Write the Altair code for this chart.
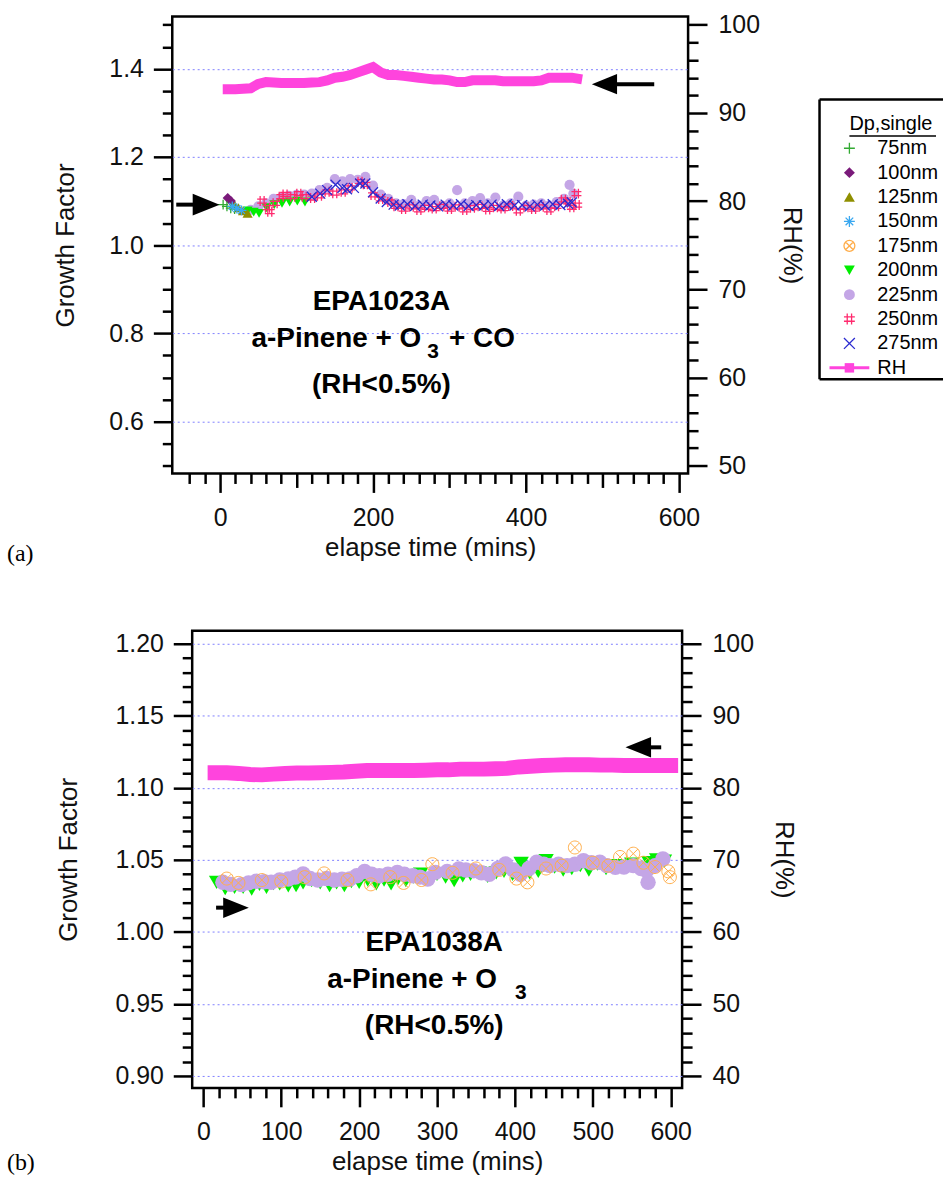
import altair as alt
import pandas as pd

FONT = "Liberation Sans"

# ---------------- legend / series definitions ----------------
SERIES = ["75nm", "100nm", "125nm", "150nm", "175nm", "200nm", "225nm", "250nm", "275nm"]
COLORS_A = ["#33aa33", "#7a1a7a", "#8f8f00", "#3aa8f0", "#ffad4a", "#00ee00", "#c4a6e6", "#ff2a6e", "#2a2ad0"]
COLORS_B = ["#33aa33", "#7a1a7a", "#8f8f00", "#3aa8f0", "#ffbe6a", "#00ee00", "#a46fe2", "#ff2a6e", "#2a2ad0"]
PLUS = "M-1,0H1M0,-1V1"
ASTER = "M-1,0H1M0,-1V1M-0.7,-0.7L0.7,0.7M-0.7,0.7L0.7,-0.7"
CIRCX = "M1,0A1,1,0,1,1,-1,0A1,1,0,1,1,1,0ZM-0.7,-0.7L0.7,0.7M-0.7,0.7L0.7,-0.7"
HASH = "M-1,-0.4H1M-1,0.4H1M-0.4,-1V1M0.4,-1V1"
XMARK = "M-1,-1L1,1M-1,1L1,-1"
SHAPES = [PLUS, "diamond", "triangle-up", ASTER, CIRCX, "triangle-down", "circle", HASH, XMARK]
FILLED = ["100nm", "125nm", "200nm", "225nm"]
STROKED = ["75nm", "150nm", "175nm", "250nm", "275nm"]

# ---------------- panel (a) data ----------------
rh_a_t = [10, 20, 30, 40, 50, 60, 70, 80, 90, 100, 110, 120, 130, 140, 150, 160, 170, 180, 190, 200,
          210, 220, 230, 240, 250, 260, 270, 280, 290, 300, 310, 320, 330, 340, 350, 360, 370, 380,
          390, 400, 410, 420, 430, 440, 450, 460, 467]
rh_a_v = [92.7, 92.7, 92.75, 92.8, 93.3, 93.5, 93.45, 93.4, 93.4, 93.4, 93.4, 93.45, 93.5, 93.7, 94.0,
          94.1, 94.3, 94.6, 94.9, 95.2, 94.6, 94.3, 94.3, 94.2, 94.1, 94.0, 93.9, 93.8, 93.8, 93.7,
          93.5, 93.5, 93.7, 93.7, 93.7, 93.7, 93.6, 93.6, 93.6, 93.6, 93.6, 93.7, 94.0, 94.0, 94.0,
          94.0, 93.9]

a225_t = [40, 50, 60, 70, 80, 90, 100, 110, 120, 130, 140, 150, 160, 170, 180, 190, 200, 210, 220,
          230, 240, 250, 260, 270, 280, 290, 300, 310, 320, 330, 340, 350, 360, 370, 380, 390, 400,
          410, 420, 430, 440, 450, 457, 462]
a225_g = [1.080, 1.088, 1.095, 1.105, 1.108, 1.112, 1.114, 1.115, 1.117, 1.125, 1.130, 1.150, 1.145,
          1.150, 1.148, 1.155, 1.135, 1.115, 1.105, 1.095, 1.093, 1.103, 1.090, 1.100, 1.103, 1.090,
          1.095, 1.125, 1.095, 1.100, 1.107, 1.095, 1.108, 1.090, 1.095, 1.110, 1.090, 1.092, 1.095,
          1.090, 1.098, 1.105, 1.137, 1.117]
a75_t = [4, 9, 14, 19]
a75_g = [1.092, 1.088, 1.084, 1.082]
a100_t = [10, 14]
a100_g = [1.107, 1.100]
a125_t = [18, 24, 30, 36]
a125_g = [1.095, 1.085, 1.078, 1.072]
a150_t = [16, 22, 28]
a150_g = [1.088, 1.083, 1.079]
a200_t = [36, 44, 51, 61, 71, 81, 91, 101, 111]
a200_g = [1.078, 1.075, 1.072, 1.085, 1.092, 1.095, 1.098, 1.100, 1.098]
a250_t = [55, 62, 65, 72, 80, 85, 95, 103, 110, 121, 130, 140, 150, 161, 170, 183, 190, 200, 210,
          222, 230, 240, 250, 260, 270, 280, 290, 300, 310, 320, 330, 340, 350, 360, 370, 380, 390,
          400, 410, 420, 430, 440, 449, 455, 460, 466, 467]
a250_g = [1.100, 1.085, 1.076, 1.095, 1.110, 1.115, 1.110, 1.117, 1.110, 1.107, 1.112, 1.121, 1.118,
          1.121, 1.130, 1.144, 1.138, 1.114, 1.105, 1.098, 1.088, 1.082, 1.087, 1.080, 1.086, 1.083,
          1.088, 1.082, 1.087, 1.080, 1.085, 1.088, 1.081, 1.086, 1.083, 1.089, 1.078, 1.086, 1.082,
          1.087, 1.080, 1.088, 1.103, 1.098, 1.086, 1.117, 1.091]
a275_t = [120, 131, 140, 151, 160, 166, 175, 183, 190, 200, 210, 218, 227, 235, 245, 255, 265, 275,
          285, 295, 305, 315, 325, 335, 345, 355, 365, 375, 385, 395, 405, 415, 425, 435, 445, 455, 460]
a275_g = [1.110, 1.117, 1.125, 1.137, 1.130, 1.127, 1.130, 1.140, 1.140, 1.120, 1.106, 1.098, 1.092,
          1.090, 1.093, 1.089, 1.092, 1.090, 1.088, 1.092, 1.090, 1.093, 1.089, 1.091, 1.090, 1.092,
          1.089, 1.093, 1.090, 1.091, 1.088, 1.092, 1.090, 1.093, 1.091, 1.094, 1.097]

# ---------------- panel (b) data ----------------
rh_b_t = [15, 30, 45, 60, 75, 90, 105, 120, 135, 150, 165, 180, 195, 210, 225, 240, 255, 270, 285,
          300, 315, 330, 345, 360, 375, 390, 405, 420, 435, 450, 465, 480, 495, 510, 525, 540, 555,
          570, 585, 600]
rh_b_v = [82.1, 82.1, 82.0, 81.85, 81.8, 81.9, 82.0, 82.05, 82.05, 82.1, 82.15, 82.2, 82.3, 82.4,
          82.4, 82.4, 82.4, 82.4, 82.45, 82.5, 82.5, 82.6, 82.6, 82.6, 82.65, 82.7, 82.9, 83.0, 83.1,
          83.15, 83.2, 83.2, 83.2, 83.15, 83.15, 83.1, 83.1, 83.1, 83.1, 83.1]

b225_t = [25, 35, 49, 58, 68, 78, 87, 98, 109, 118, 128, 137, 147, 158, 168, 178, 188, 197, 207, 216,
          226, 237, 249, 258, 269, 278, 288, 298, 313, 328, 337, 347, 357, 367, 378, 388, 398, 407,
          418, 428, 437, 445, 456, 467, 477, 488, 498, 509, 518, 529, 540, 552, 562, 569, 571, 580, 590]
b225_g = [1.0344, 1.0330, 1.0328, 1.0340, 1.0351, 1.0348, 1.0344, 1.0360, 1.0367, 1.0380, 1.0402,
          1.0370, 1.0360, 1.0370, 1.0360, 1.0365, 1.0367, 1.0390, 1.0420, 1.0400, 1.0390, 1.0400,
          1.0413, 1.0400, 1.0390, 1.0380, 1.0367, 1.0413, 1.0420, 1.0437, 1.0430, 1.0425, 1.0410,
          1.0400, 1.0440, 1.0471, 1.0430, 1.0400, 1.0440, 1.0483, 1.0470, 1.0460, 1.0470, 1.0460,
          1.0470, 1.0494, 1.0480, 1.0483, 1.0460, 1.0448, 1.0450, 1.0460, 1.0440, 1.0425, 1.0344,
          1.0460, 1.0506]
b200_t = [17, 28, 40, 51, 62, 72, 81, 90, 98, 109, 119, 128, 139, 150, 162, 171, 181, 190, 200, 211,
          222, 232, 241, 250, 260, 270, 279, 290, 300, 311, 322, 333, 343, 354, 365, 376, 386, 397,
          408, 419, 430, 440, 451, 462, 473, 484, 495, 506, 517, 528, 539, 550, 561, 572, 582, 592]
b200_g = [1.0344, 1.0300, 1.0309, 1.0310, 1.0298, 1.0330, 1.0309, 1.0335, 1.0333, 1.0320, 1.0321,
          1.0340, 1.0356, 1.0340, 1.0321, 1.0340, 1.0321, 1.0350, 1.0344, 1.0360, 1.0333, 1.0360,
          1.0333, 1.0370, 1.0356, 1.0380, 1.0400, 1.0370, 1.0400, 1.0380, 1.0356, 1.0390, 1.0400,
          1.0410, 1.0385, 1.0410, 1.0420, 1.0400, 1.0475, 1.0410, 1.0420, 1.0495, 1.0450, 1.0430,
          1.0440, 1.0460, 1.0430, 1.0470, 1.0440, 1.0460, 1.0450, 1.0470, 1.0440, 1.0480, 1.0500,
          1.0490]
b175_t = [30, 45, 75, 100, 130, 155, 185, 215, 240, 257, 280, 294, 320, 350, 380, 402, 416, 440, 460,
          477, 500, 520, 535, 552, 565, 580, 597, 599]
b175_g = [1.0370, 1.0340, 1.0360, 1.0350, 1.0380, 1.0406, 1.0360, 1.0330, 1.0380, 1.0340, 1.0360,
          1.0470, 1.0410, 1.0440, 1.0430, 1.0370, 1.0344, 1.0440, 1.0460, 1.0586, 1.0480, 1.0460,
          1.0520, 1.0543, 1.0480, 1.0450, 1.0420, 1.0380]


def frame(pairs):
    rows = []
    for name, ts, gs in pairs:
        for t, g in zip(ts, gs):
            rows.append({"series": name, "t": t, "gf": g})
    return pd.DataFrame(rows)


df_a = frame([("225nm", a225_t, a225_g), ("200nm", a200_t, a200_g), ("125nm", a125_t, a125_g),
              ("100nm", a100_t, a100_g), ("75nm", a75_t, a75_g), ("150nm", a150_t, a150_g),
              ("250nm", a250_t, a250_g), ("275nm", a275_t, a275_g)])
df_b = frame([("200nm", b200_t, b200_g), ("175nm", b175_t, b175_g), ("225nm", b225_t, b225_g)])
rh_a = pd.DataFrame({"t": rh_a_t, "rh": rh_a_v})
rh_b = pd.DataFrame({"t": rh_b_t, "rh": rh_b_v})
one = pd.DataFrame({"k": [0]})

RH_COLOR = "#ff44dd"
GRID = "#7f7fff"

AX = dict(domain=False, labelFont=FONT, titleFont=FONT, labelFontSize=25, titleFontSize=26,
          labelColor="#111111", titleColor="#111111", titleFontWeight="normal", tickColor="black",
          tickWidth=2.5, labelOverlap=False, labelFlush=False, tickCount=500)


def xaxis(vals, major, mid):
    return alt.Axis(values=vals, grid=False, title="elapse time (mins)",
                    labelExpr=f"datum.value % {major} == 0 ? datum.label : ''",
                    tickSize={"expr": f"datum.value % {major} == 0 ? 19 : (datum.value % {mid} == 0 ? 14 : 10)"},
                    labelPadding=13, titlePadding=4, format="d", **AX)


def gfaxis(vals, mult, fmt, tpad):
    test = f"abs(datum.value*{mult} - round(datum.value*{mult})) < 0.000001"
    return alt.Axis(values=vals, orient="left", title="Growth Factor",
                    labelExpr=f"({test}) ? format(datum.value, '{fmt}') : ''",
                    tickSize={"expr": f"({test}) ? 19 : 10"},
                    grid=True, gridColor=GRID, gridDash=[2, 3], gridWidth=1,
                    gridOpacity={"expr": f"({test}) ? 1 : 0"},
                    labelPadding=10, titlePadding=tpad, **AX)


def rhaxis(vals, tpad):
    return alt.Axis(values=vals, orient="right", title="RH(%)", grid=False,
                    labelExpr="datum.value % 10 == 0 ? datum.label : ''",
                    tickSize={"expr": "datum.value % 10 == 0 ? 19 : 10"},
                    labelPadding=11, titlePadding=tpad, format="d", **AX)


def txt(s, x, y, size=28, weight="bold", align="center", font=FONT):
    return alt.Chart(one).mark_text(text=s, fontSize=size, fontWeight=weight, align=align,
                                    baseline="middle", font=font, color="black").encode(
        x=alt.value(x), y=alt.value(y))


HEAD_R = "M-1,-0.8L1,0L-1,0.8Z"
HEAD_L = "M1,-0.8L-1,0L1,0.8Z"


def arrow(path, x1, x2, hx, y, size):
    shaft = alt.Chart(one).mark_rule(strokeWidth=4, color="black").encode(
        x=alt.value(x1), x2=alt.value(x2), y=alt.value(y))
    head = alt.Chart(one).mark_point(shape=path, filled=True, size=size, color="black",
                                     opacity=1).encode(x=alt.value(hx), y=alt.value(y))
    return shaft + head


def panel(df, rh, colors, xdom, xax, gdom, gax, rdom, rax, fsize, ssize, swidth, rh_width, w, h, extras):
    xs = alt.Scale(domain=xdom, nice=False, zero=False)
    x = alt.X("t:Q", scale=xs, axis=xax)
    y = alt.Y("gf:Q", scale=alt.Scale(domain=gdom, nice=False, zero=False), axis=gax)
    color = alt.Color("series:N", scale=alt.Scale(domain=SERIES, range=colors), legend=None)
    shape = alt.Shape("series:N", scale=alt.Scale(domain=SERIES, range=SHAPES), legend=None)
    base = alt.Chart(df).encode(x=x, y=y, color=color, shape=shape)
    filled = base.transform_filter(alt.FieldOneOfPredicate(field="series", oneOf=FILLED)).mark_point(
        filled=True, opacity=1, size=fsize)
    stroked = base.transform_filter(alt.FieldOneOfPredicate(field="series", oneOf=STROKED)).mark_point(
        filled=False, opacity=1, strokeWidth=swidth, size=ssize)
    gf_layer = alt.layer(filled, stroked)
    rh_line = alt.Chart(rh).mark_line(color=RH_COLOR, strokeWidth=rh_width, strokeCap="square",
                                      strokeJoin="miter").encode(
        x=alt.X("t:Q", scale=xs, axis=xax),
        y=alt.Y("rh:Q", scale=alt.Scale(domain=rdom, nice=False, zero=False), axis=rax))
    return alt.layer(gf_layer, rh_line, *extras).resolve_scale(y="independent").properties(width=w, height=h)


extras_a = [
    txt("EPA1023A", 210, 287),
    txt("a-Pinene + O", 250, 324, align="right"),
    txt("3", 262, 337, size=21),
    txt("+ CO", 278, 324, align="left"),
    txt("(RH<0.5%)", 210, 370),
    arrow(HEAD_R, 4, 24, 34, 189, 729),
    arrow(HEAD_L, 445, 484, 434, 68, 640),
    txt("(a)", -166, 540, size=24, weight="normal", align="left", font="Liberation Serif"),
]
panel_a = panel(df_a, rh_a, COLORS_A, [-62.5, 612], xaxis(list(range(-40, 601, 20)), 200, 100),
                [0.482, 1.519], gfaxis([round(0.5 + 0.05 * i, 2) for i in range(21)], 5, ".1f", 30),
                [49.1, 100.95], rhaxis(list(range(50, 101, 2)), 19), 105, 100, 1.3, 10, 518, 459,
                extras_a)

extras_b = [
    txt("EPA1038A", 243, 314),
    txt("a-Pinene + O", 306, 351, align="right"),
    txt("3", 330, 364, size=21),
    txt("(RH<0.5%)", 243, 397),
    arrow(HEAD_L, 458, 471, 448, 117, 660),
    arrow(HEAD_R, 24, 38, 44, 278, 660),
    txt("(b)", -186, 534, size=24, weight="normal", align="left", font="Liberation Serif"),
]
panel_b = panel(df_b, rh_b, COLORS_B, [-14.4, 614.7], xaxis(list(range(0, 601, 20)), 100, 100),
                [0.8917, 1.209], gfaxis([round(0.9 + 0.01 * i, 2) for i in range(31)], 20, ".2f", 34),
                [38.34, 101.8], rhaxis(list(range(40, 101, 2)), 17), 240, 170, 1.0, 15, 492, 459,
                extras_b)

# spacer that shifts panel (b) to the right of panel (a)'s frame
spacer = alt.Chart(one).mark_point(opacity=0).encode(x=alt.value(0), y=alt.value(0)).properties(
    width=20, height=459, view=alt.ViewBackground(stroke=None))

# ---------------- legend ----------------
leg_rows = list(range(9))
leg_df = pd.DataFrame({"series": SERIES, "row": leg_rows})
ly = alt.Scale(domain=[-5.404, 13.33], reverse=True)
lcolor = alt.Color("series:N", scale=alt.Scale(domain=SERIES, range=COLORS_A), legend=None)
lshape = alt.Shape("series:N", scale=alt.Scale(domain=SERIES, range=SHAPES), legend=None)
lbase = alt.Chart(leg_df).encode(x=alt.value(30), y=alt.Y("row:Q", scale=ly, axis=None),
                                 color=lcolor, shape=lshape)
leg_filled = lbase.transform_filter(alt.FieldOneOfPredicate(field="series", oneOf=FILLED)).mark_point(
    filled=True, opacity=1, size=120)
leg_stroked = lbase.transform_filter(alt.FieldOneOfPredicate(field="series", oneOf=STROKED)).mark_point(
    filled=False, opacity=1, size=120, strokeWidth=1.3)
leg_text = alt.Chart(leg_df).mark_text(align="left", baseline="middle", font=FONT, fontSize=20,
                                       color="black").encode(
    x=alt.value(58), y=alt.Y("row:Q", scale=ly, axis=None), text="series:N")
LW = 124
leg_top = alt.Chart(one).mark_rule(color="black", strokeWidth=2.5).encode(
    x=alt.value(0), x2=alt.value(LW), y=alt.value(83.4))
leg_bot = alt.Chart(one).mark_rule(color="black", strokeWidth=2.5).encode(
    x=alt.value(0), x2=alt.value(LW), y=alt.value(364.4))
leg_left = alt.Chart(one).mark_rule(color="black", strokeWidth=2.5).encode(
    x=alt.value(0), y=alt.value(83.4), y2=alt.value(364.4))
leg_title = alt.Chart(one).mark_text(text="Dp,single", align="left", baseline="middle", font=FONT,
                                     fontSize=20, color="black").encode(
    x=alt.value(30), y=alt.datum(-0.99, scale=ly))
leg_ul = alt.Chart(one).mark_rule(color="black", strokeWidth=1.5).encode(
    x=alt.value(30), x2=alt.value(117), y=alt.datum(-0.5, scale=ly))
leg_rh_line = alt.Chart(one).mark_rule(color=RH_COLOR, strokeWidth=3).encode(
    x=alt.value(10), x2=alt.value(50), y=alt.datum(9, scale=ly))
leg_rh_sq = alt.Chart(one).mark_point(shape="square", filled=True, size=90, color=RH_COLOR,
                                      opacity=1).encode(x=alt.value(30), y=alt.datum(9, scale=ly))
leg_rh_txt = alt.Chart(one).mark_text(text="RH", align="left", baseline="middle", font=FONT,
                                      fontSize=20, color="black").encode(
    x=alt.value(58), y=alt.datum(9, scale=ly))
legend = alt.layer(leg_top, leg_bot, leg_left, leg_filled, leg_stroked, leg_text, leg_title, leg_ul,
                   leg_rh_line, leg_rh_sq, leg_rh_txt).properties(
    width=LW, height=459, view=alt.ViewBackground(stroke=None))

chart = alt.vconcat(
    alt.hconcat(panel_a, legend, spacing=12),
    alt.hconcat(spacer, panel_b, spacing=0, bounds="flush"),
    spacing=60,
).properties(padding={"left": 5, "top": 9, "right": 0, "bottom": 0}).configure_view(
    stroke="black", strokeWidth=2.5)

chart.save("out.html", embed_options={"renderer": "svg", "actions": False})
